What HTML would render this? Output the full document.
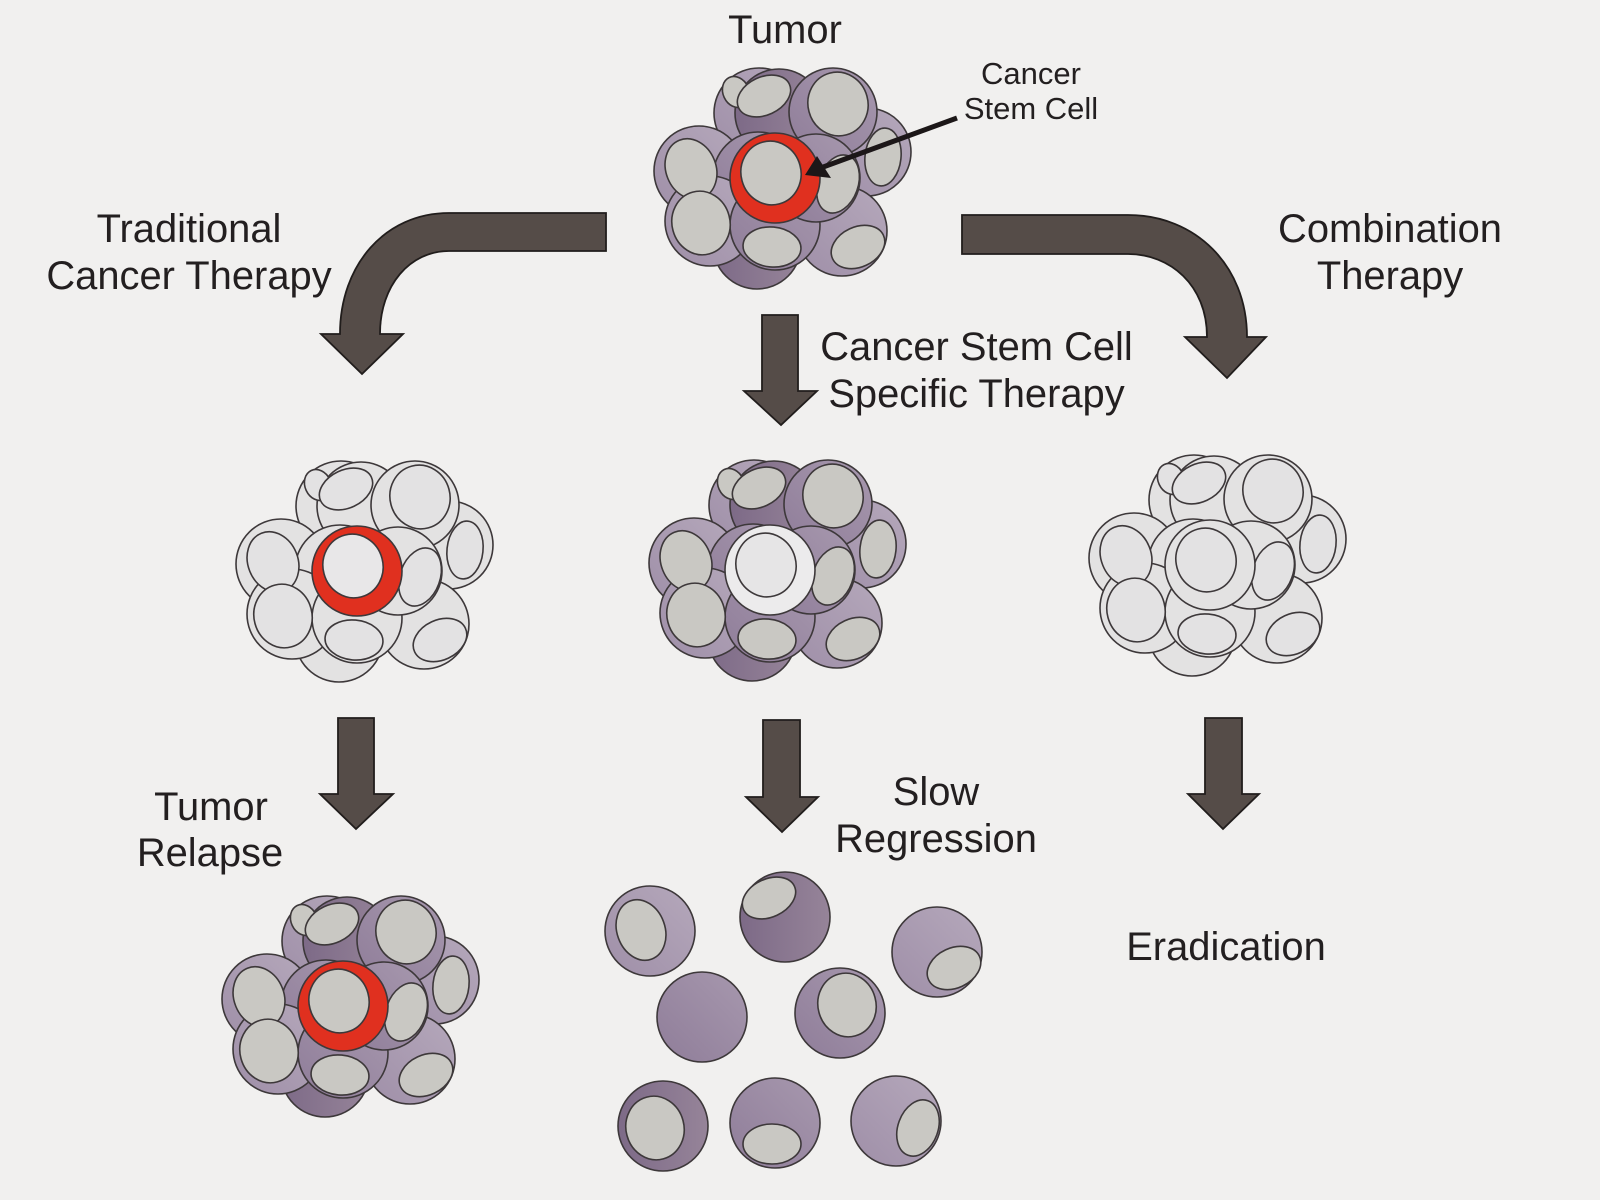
<!DOCTYPE html>
<html><head><meta charset="utf-8">
<style>
html,body{margin:0;padding:0;background:#f1f0ef}
svg{display:block}
text{font-family:"Liberation Sans",sans-serif;fill:#231f20;text-anchor:middle;font-size:39.9px}
.c *{stroke:#3d383a;stroke-width:1.6}
.purple{--l:url(#gl);--m:url(#gm);--d:url(#gd);--n:#c9c8c3;--s:#e0301f;--sn:#c9c8c3}
.lt{--l:#e3e2e2;--m:#e3e2e2;--d:#e3e2e2;--n:#e3e2e3;--s:#e0301f;--sn:#e8e7e8}
.mid{--l:url(#gl);--m:url(#gm);--d:url(#gd);--n:#c9c8c3;--s:#ecebec;--sn:#e6e5e6}
.gh{--l:#e3e2e2;--m:#e3e2e2;--d:#e3e2e2;--n:#e3e2e3;--s:#e3e2e2;--sn:#e3e2e3}
.a{fill:#554c48;stroke:#211d1c;stroke-width:1.8}
</style></head>
<body>
<svg width="1600" height="1200" viewBox="0 0 1600 1200" xmlns="http://www.w3.org/2000/svg">
<defs>
<linearGradient id="gl" x1="0" y1="1" x2="1" y2="0"><stop offset="0" stop-color="#9f8fa8"/><stop offset="1" stop-color="#b5a8bb"/></linearGradient>
<linearGradient id="gm" x1="0" y1="1" x2="1" y2="0"><stop offset="0" stop-color="#8f7d99"/><stop offset="1" stop-color="#a798ae"/></linearGradient>
<linearGradient id="gd" x1="0" y1="0" x2="1" y2="0"><stop offset="0" stop-color="#7d6a87"/><stop offset="1" stop-color="#968499"/></linearGradient>
<g id="cl" class="c">
<circle cx="759" cy="113" r="45" style="fill:var(--l)"/>
<circle cx="757" cy="245" r="44" style="fill:var(--d)"/>
<circle cx="867" cy="152" r="44" style="fill:var(--l)"/>
<ellipse cx="883" cy="157" rx="18" ry="29" transform="rotate(6 883 157)" style="fill:var(--n)"/>
<circle cx="779" cy="113" r="44" style="fill:var(--d)"/>
<ellipse cx="736" cy="92" rx="13" ry="16" transform="rotate(-25 736 92)" style="fill:var(--n)"/>
<ellipse cx="764" cy="96" rx="28" ry="19" transform="rotate(-25 764 96)" style="fill:var(--n)"/>
<circle cx="833" cy="112" r="44" style="fill:var(--m)"/>
<ellipse cx="838" cy="104" rx="30" ry="32" transform="rotate(-15 838 104)" style="fill:var(--n)"/>
<circle cx="842" cy="231" r="45" style="fill:var(--l)"/>
<ellipse cx="858" cy="247" rx="28" ry="20" transform="rotate(-25 858 247)" style="fill:var(--n)"/>
<circle cx="699" cy="171" r="45" style="fill:var(--l)"/>
<circle cx="758" cy="177" r="45" style="fill:var(--m)"/>
<circle cx="710" cy="221" r="45" style="fill:var(--l)"/>
<circle cx="775" cy="225" r="45" style="fill:var(--m)"/>
<ellipse cx="691" cy="169" rx="25" ry="31" transform="rotate(-22 691 169)" style="fill:var(--n)"/>
<ellipse cx="701" cy="223" rx="29" ry="32" transform="rotate(-15 701 223)" style="fill:var(--n)"/>
<ellipse cx="772" cy="247" rx="29" ry="20" transform="rotate(5 772 247)" style="fill:var(--n)"/>
<circle cx="816" cy="178" r="44" style="fill:var(--m)"/>
<ellipse cx="838" cy="184" rx="20" ry="30" transform="rotate(20 838 184)" style="fill:var(--n)"/>
<circle cx="775" cy="178" r="45" style="fill:var(--s)"/>
<ellipse cx="771" cy="173" rx="30" ry="32" transform="rotate(-15 771 173)" style="fill:var(--sn)"/>
</g>
</defs>
<rect width="1600" height="1200" fill="#f1f0ef"/>

<use href="#cl" class="purple"/>
<use href="#cl" class="lt" transform="translate(-418,393)"/>
<use href="#cl" class="mid" transform="translate(-5,392)"/>
<use href="#cl" class="gh" transform="translate(435,387)"/>
<use href="#cl" class="purple" transform="translate(-432,828)"/>

<!-- callout arrow -->
<line x1="957" y1="118" x2="815" y2="170" stroke="#1c1718" stroke-width="5"/>
<polygon points="805,175 831,178 817,156" fill="#1c1718"/>

<!-- curved arrows -->
<path class="a" d="M606,213 H449 C385,213 340,265 340,334 H321 L362,374 L403,334 H380 C380,285 410,251 449,251 H606 Z"/>
<path class="a" d="M962,215 H1128 C1195,215 1247,265 1247,337 H1266 L1227,378 L1185,337 H1207 C1207,285 1170,254 1128,254 H962 Z"/>

<!-- straight arrows -->
<polygon class="a" points="762,315 798,315 798,391 817,391 781,425 744,391 762,391"/>
<polygon class="a" points="338,718 374,718 374,794 393,794 356,829 320,794 338,794"/>
<polygon class="a" points="763,720 800,720 800,797 818,797 782,832 746,797 763,797"/>
<polygon class="a" points="1205,718 1242,718 1242,794 1259,794 1223,829 1188,794 1205,794"/>

<!-- free cells -->
<g class="c">
<circle cx="650" cy="931" r="45" fill="url(#gl)"/>
<ellipse cx="641" cy="930" rx="24" ry="31" transform="rotate(-20 641 930)" fill="#c9c8c3"/>
<circle cx="785" cy="917" r="45" fill="url(#gd)"/>
<ellipse cx="769" cy="898" rx="28" ry="19" transform="rotate(-25 769 898)" fill="#c9c8c3"/>
<circle cx="937" cy="952" r="45" fill="url(#gl)"/>
<ellipse cx="954" cy="968" rx="28" ry="20" transform="rotate(-25 954 968)" fill="#c9c8c3"/>
<circle cx="702" cy="1017" r="45" fill="url(#gm)"/>
<circle cx="840" cy="1013" r="45" fill="url(#gm)"/>
<ellipse cx="847" cy="1005" rx="29" ry="32" transform="rotate(-15 847 1005)" fill="#c9c8c3"/>
<circle cx="663" cy="1126" r="45" fill="url(#gd)"/>
<ellipse cx="655" cy="1128" rx="29" ry="32" transform="rotate(-15 655 1128)" fill="#c9c8c3"/>
<circle cx="775" cy="1123" r="45" fill="url(#gm)"/>
<ellipse cx="772" cy="1144" rx="29" ry="20" fill="#c9c8c3"/>
<circle cx="896" cy="1121" r="45" fill="url(#gl)"/>
<ellipse cx="918" cy="1128" rx="20" ry="29" transform="rotate(20 918 1128)" fill="#c9c8c3"/>
</g>

<!-- labels -->
<text x="785" y="43">Tumor</text>
<text x="1031" y="84" style="font-size:31px">Cancer</text>
<text x="1031" y="119" style="font-size:31px">Stem Cell</text>
<text x="189" y="242">Traditional</text>
<text x="189" y="289">Cancer Therapy</text>
<text x="1390" y="242">Combination</text>
<text x="1390" y="289">Therapy</text>
<text x="976.5" y="360">Cancer Stem Cell</text>
<text x="976.5" y="407">Specific Therapy</text>
<text x="211" y="820">Tumor</text>
<text x="210" y="866">Relapse</text>
<text x="936" y="805">Slow</text>
<text x="936" y="852">Regression</text>
<text x="1226" y="960">Eradication</text>
</svg>
</body></html>
